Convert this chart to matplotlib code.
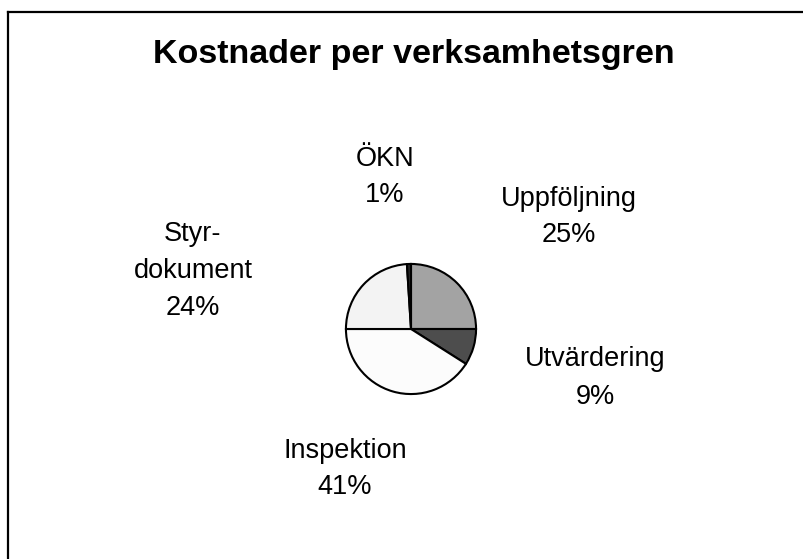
import matplotlib
matplotlib.use("Agg")
import matplotlib.pyplot as plt
from matplotlib.lines import Line2D

categories = ["Uppföljning", "Utvärdering", "Inspektion", "Styr-\ndokument", "ÖKN"]
values = [25, 9, 41, 24, 1]
colors = ["#a3a3a3", "#4d4d4d", "#fcfcfc", "#f3f3f3", "#262626"]
# label centers in pixels (x, y from top)
label_pos = [(569, 217), (595, 378), (345, 469), (193, 271), (385, 177)]

W, H = 804, 559
fig = plt.figure(figsize=(W / 100, H / 100), dpi=100)
plt.rcParams['font.family'] = ['Liberation Sans', 'DejaVu Sans']

cx, cy, r = 411, 329, 67
ax = fig.add_axes([(cx - r) / W, (H - cy - r) / H, 2 * r / W, 2 * r / H])
ax.pie(values, colors=colors, startangle=90, counterclock=False,
       wedgeprops=dict(edgecolor="black", linewidth=1.5), radius=1)
ax.set_xlim(-1.03, 1.03)
ax.set_ylim(-1.03, 1.03)
ax.set_aspect("equal")
ax.axis("off")

total = sum(values)
for cat, v, (x, y) in zip(categories, values, label_pos):
    fig.text(x / W, 1 - y / H, f"{cat}\n{round(100 * v / total)}%",
             ha="center", va="center", fontsize=19.5, linespacing=1.55,
             color="black")

fig.text(414 / W, 1 - 54 / H, "Kostnader per verksamhetsgren",
         ha="center", va="center", fontsize=24.5, fontweight="bold")

# frame (left and top edges visible)
fig.add_artist(Line2D([8 / W, 8 / W], [0, 1 - 12 / H], color="black",
                      linewidth=1.6, transform=fig.transFigure))
fig.add_artist(Line2D([8 / W, 1], [1 - 12 / H, 1 - 12 / H], color="black",
                      linewidth=1.6, transform=fig.transFigure))

fig.savefig("out.png", dpi=100, facecolor="white")
